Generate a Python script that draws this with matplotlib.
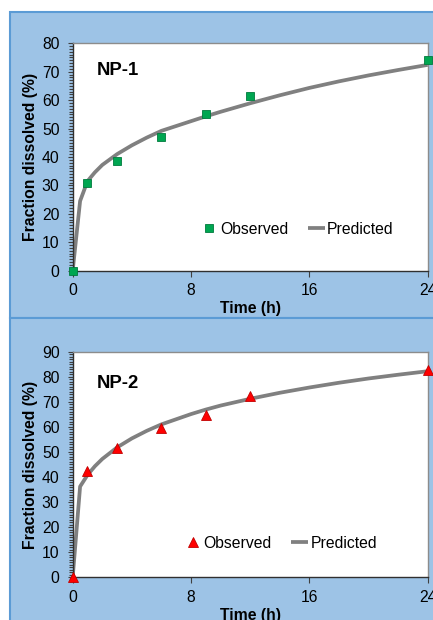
import matplotlib
matplotlib.use("Agg")
import matplotlib.pyplot as plt
from matplotlib.patches import Rectangle
from matplotlib.ticker import MultipleLocator

plt.rcParams['font.family'] = ['Liberation Sans', 'DejaVu Sans']

# ---- data ----
obs_time = [0, 1, 3, 6, 9, 12, 24]
np1_obs = [0, 31, 38.5, 47, 55, 61.5, 74]
np2_obs = [0, 42.4, 51.7, 59.4, 64.6, 72.5, 82.7]

pred_time = [0, 0.5, 1, 1.5, 2, 3, 4, 5, 6, 8, 9, 10, 12, 14, 16, 18, 20, 22, 24]
np1_pred = [0, 24.5, 31.5, 34.6, 37.2, 41.0, 44.1, 46.8, 49.2, 52.6, 54.3, 55.9,
            58.9, 61.7, 64.3, 66.6, 68.7, 70.6, 72.4]
np2_pred = [0, 36.2, 40.8, 44.3, 47.2, 51.8, 55.4, 58.4, 61.0, 65.1, 66.9, 68.5,
            71.2, 73.6, 75.7, 77.6, 79.3, 80.8, 82.2]

panels = [
    dict(label="NP-1", obs=np1_obs, pred=np1_pred, ymax=80, marker='s',
         mcolor='#00A651', medge='#007A3D', ms=6,
         rect=(0.5634, 0.3668), leg=(0.361, 0.183), txt_y=0.88),
    dict(label="NP-2", obs=np2_obs, pred=np2_pred, ymax=90, marker='^',
         mcolor='#FF0000', medge='#C00000', ms=6.5,
         rect=(0.0689, 0.3639), leg=(0.3135, 0.151), txt_y=0.86),
]

W, H = 433, 620
fig = plt.figure(figsize=(W / 100, H / 100), dpi=100)
fig.patch.set_facecolor('white')

blue = '#9DC3E6'
border = '#5B9BD5'
# background panels (pixel -> figure fraction)
for (y0, y1) in [(12, 318), (318, 630)]:
    fig.patches.append(Rectangle((10 / W, 1 - y1 / H), (W + 20) / W, (y1 - y0) / H,
                                 transform=fig.transFigure, facecolor=blue,
                                 edgecolor=border, linewidth=1.5, zorder=-5))

for p in panels:
    b, h = p['rect']
    ax = fig.add_axes([72.7 / W, b, 355 / W, h])
    ax.set_facecolor('white')
    ax.plot(pred_time, p['pred'], color='#808080', lw=2.7, label='Predicted',
            zorder=2, solid_capstyle='butt', solid_joinstyle='round')
    ax.plot(obs_time, p['obs'], linestyle='none', marker=p['marker'],
            color=p['mcolor'], markeredgecolor=p['medge'], markeredgewidth=0.6,
            ms=p['ms'], label='Observed', zorder=3, clip_on=False)
    ax.set_xlim(0, 24)
    ax.set_ylim(0, p['ymax'])
    ax.xaxis.set_major_locator(MultipleLocator(8))
    ax.yaxis.set_major_locator(MultipleLocator(10))
    ax.yaxis.set_minor_locator(MultipleLocator(1))
    ax.tick_params(axis='both', which='major', labelsize=11.3, direction='out',
                   color='#404040')
    ax.tick_params(axis='y', which='major', length=3.5, width=0.8, pad=6)
    ax.tick_params(axis='y', which='minor', length=2.8, width=0.8, color='#404040')
    ax.tick_params(axis='x', which='major', length=4, width=0.8, pad=5)
    for s in ['top', 'right']:
        ax.spines[s].set_color('#8C8C8C')
        ax.spines[s].set_linewidth(1.0)
    for s in ['left', 'bottom']:
        ax.spines[s].set_color('#303030')
        ax.spines[s].set_linewidth(1.0)
    ax.set_xlabel('Time (h)', fontsize=11.3, fontweight='bold', labelpad=2)
    ax.set_ylabel('Fraction dissolved (%)', fontsize=11.3, fontweight='bold', labelpad=3)
    ax.text(0.068, p['txt_y'], p['label'], transform=ax.transAxes, fontsize=13.3,
            fontweight='bold', va='center', ha='left')
    handles, labels = ax.get_legend_handles_labels()
    order = [1, 0]
    ax.legend([handles[i] for i in order], [labels[i] for i in order],
              loc='center left', bbox_to_anchor=p['leg'], ncol=2, frameon=False,
              fontsize=11.3, handlelength=1.1, handletextpad=0.15,
              columnspacing=1.2, borderpad=0, borderaxespad=0)

fig.savefig('out.png', dpi=100)
